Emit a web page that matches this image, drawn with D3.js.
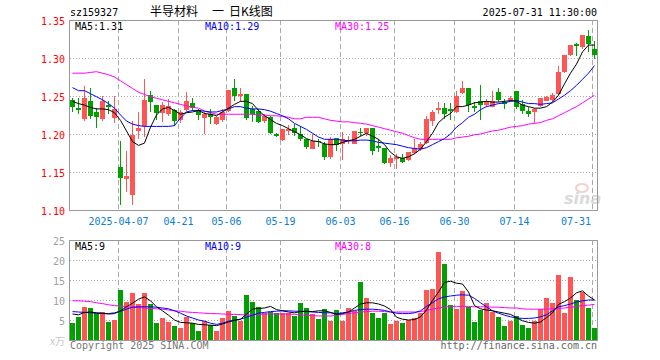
<!DOCTYPE html>
<html>
<head>
<meta charset="utf-8">
<script src="https://cdn.jsdelivr.net/npm/d3@7"></script>
<style>
body { margin: 0; background: #fff; }
svg { display: block; }
text { font-family: "DejaVu Sans Mono", monospace; font-size: 10px; }
.cjk { font-family: "Noto Sans CJK SC", sans-serif; font-size: 12px; }
</style>
</head>
<body>
<svg width="660" height="360"></svg>
<script>
// trading days shown (2025)
var dates = ["03-25","03-26","03-27","03-28","03-31","04-01","04-02","04-03","04-07","04-08","04-09","04-10","04-11","04-14","04-15","04-16","04-17","04-18","04-21","04-22","04-23","04-24","04-25","04-28","04-29","04-30","05-06","05-07","05-08","05-09","05-12","05-13","05-14","05-15","05-16","05-19","05-20","05-21","05-22","05-23","05-26","05-27","05-28","05-29","05-30","06-03","06-04","06-05","06-06","06-09","06-10","06-11","06-12","06-13","06-16","06-17","06-18","06-19","06-20","06-23","06-24","06-25","06-26","06-27","06-30","07-01","07-02","07-03","07-04","07-07","07-08","07-09","07-10","07-11","07-14","07-15","07-16","07-17","07-18","07-21","07-22","07-23","07-24","07-25","07-28","07-29","07-30","07-31"];

var open = [1.245,1.234,1.220,1.243,1.229,1.219,1.238,1.221,1.157,1.141,
    1.120,1.204,1.211,1.251,1.238,1.228,1.226,1.232,1.218,1.231,
    1.241,1.231,1.221,1.226,1.213,1.218,1.230,1.261,1.250,1.253,
    1.233,1.230,1.218,1.223,1.200,1.192,1.205,1.208,1.200,1.193,
    1.181,1.191,1.187,1.169,1.195,1.187,1.191,1.187,1.203,1.202,
    1.208,1.184,1.182,1.162,1.168,1.169,1.165,1.175,1.180,1.188,
    1.217,1.231,1.234,1.233,1.229,1.254,1.261,1.237,1.243,1.238,
    1.236,1.255,1.242,1.244,1.257,1.240,1.230,1.229,1.236,1.244,
    1.244,1.253,1.282,1.304,1.318,1.314,1.329,1.312];
var close = [1.236,1.231,1.247,1.223,1.223,1.243,1.235,1.233,1.142,1.145,
    1.199,1.208,1.245,1.242,1.228,1.238,1.237,1.217,1.229,1.243,
    1.235,1.224,1.226,1.222,1.222,1.229,1.258,1.250,1.253,1.222,
    1.227,1.216,1.224,1.202,1.198,1.206,1.207,1.202,1.193,1.182,
    1.191,1.190,1.170,1.193,1.186,1.193,1.192,1.204,1.202,1.208,
    1.178,1.182,1.162,1.169,1.170,1.164,1.176,1.181,1.187,1.220,
    1.229,1.234,1.226,1.231,1.250,1.261,1.238,1.235,1.238,1.242,
    1.244,1.244,1.240,1.247,1.236,1.231,1.226,1.233,1.247,1.249,
    1.251,1.282,1.304,1.317,1.315,1.330,1.318,1.304];
var high = [1.247,1.247,1.263,1.260,1.234,1.250,1.243,1.250,1.191,1.178,
    1.217,1.229,1.272,1.257,1.238,1.242,1.246,1.233,1.232,1.255,
    1.247,1.233,1.229,1.233,1.224,1.233,1.258,1.272,1.261,1.253,
    1.237,1.233,1.226,1.224,1.201,1.207,1.212,1.213,1.211,1.194,
    1.200,1.193,1.189,1.196,1.195,1.202,1.198,1.204,1.208,1.208,
    1.208,1.193,1.182,1.172,1.174,1.174,1.176,1.194,1.189,1.224,
    1.231,1.242,1.241,1.241,1.257,1.270,1.261,1.242,1.265,1.246,
    1.257,1.260,1.246,1.250,1.257,1.245,1.235,1.234,1.248,1.250,
    1.254,1.290,1.304,1.317,1.320,1.330,1.337,1.323];
var low = [1.229,1.226,1.217,1.220,1.208,1.217,1.226,1.215,1.107,1.124,
    1.107,1.193,1.196,1.229,1.218,1.216,1.224,1.211,1.215,1.229,
    1.230,1.218,1.200,1.213,1.212,1.216,1.229,1.243,1.242,1.218,
    1.216,1.215,1.215,1.200,1.196,1.191,1.199,1.197,1.191,1.180,
    1.180,1.183,1.166,1.167,1.178,1.166,1.187,1.187,1.198,1.198,
    1.173,1.176,1.161,1.156,1.154,1.162,1.164,1.174,1.178,1.187,
    1.211,1.226,1.220,1.219,1.228,1.253,1.229,1.229,1.219,1.236,
    1.235,1.242,1.233,1.242,1.233,1.226,1.222,1.215,1.235,1.243,
    1.242,1.251,1.280,1.303,1.302,1.312,1.308,1.299];
// volume, 万手
var volume = [4.3,5.8,8.3,8.0,6.7,7.1,4.6,5.0,12.5,9.6,
    11.8,9.0,11.8,9.0,4.3,5.6,4.6,3.5,3.0,5.7,
    4.2,2.3,4.8,3.8,2.3,5.6,7.3,6.1,4.8,11.3,
    9.6,8.2,6.8,7.1,6.7,6.7,6.7,6.0,9.3,7.9,
    6.5,5.3,7.8,4.8,7.5,4.8,7.9,7.3,14.5,10.5,
    6.7,5.5,6.8,4.0,4.7,4.2,5.0,5.4,6.8,12.5,
    12.8,22.0,19.0,8.8,7.8,12.3,8.3,4.6,7.5,9.3,
    7.1,5.8,3.5,4.8,6.0,3.8,3.1,4.8,7.7,10.6,
    9.3,16.3,6.8,15.8,10.0,12.1,7.9,3.1];

// moving averages as printed on the chart
var ma5 = [1.243,1.240,1.238,1.235,1.233,1.233,1.232,1.228,1.218,1.204,
    1.190,1.185,1.188,1.209,1.225,1.233,1.235,1.231,1.226,1.228,
    1.229,1.231,1.227,1.226,1.224,1.229,1.234,1.239,1.243,1.243,
    1.240,1.231,1.224,1.219,1.214,1.211,1.207,1.203,1.199,1.194,
    1.191,1.190,1.187,1.186,1.186,1.189,1.191,1.193,1.197,1.201,
    1.197,1.193,1.186,1.176,1.170,1.168,1.170,1.174,1.180,1.190,
    1.201,1.215,1.222,1.227,1.236,1.236,1.238,1.241,1.242,1.243,
    1.242,1.242,1.243,1.244,1.243,1.238,1.236,1.234,1.234,1.236,
    1.242,1.251,1.266,1.280,1.292,1.308,1.317,1.317];
var ma10 = [1.261,1.257,1.257,1.253,1.249,1.245,1.240,1.234,1.225,1.217,
    1.213,1.211,1.210,1.210,1.210,1.210,1.210,1.211,1.221,1.229,
    1.231,1.231,1.230,1.229,1.229,1.231,1.233,1.236,1.236,1.234,
    1.233,1.233,1.232,1.230,1.227,1.224,1.220,1.214,1.210,1.206,
    1.201,1.196,1.193,1.193,1.193,1.192,1.191,1.191,1.192,1.192,
    1.191,1.189,1.188,1.187,1.186,1.184,1.182,1.181,1.180,1.182,
    1.186,1.190,1.194,1.200,1.209,1.215,1.222,1.226,1.232,1.236,
    1.238,1.240,1.241,1.243,1.244,1.242,1.240,1.240,1.239,1.240,
    1.241,1.246,1.251,1.257,1.264,1.272,1.280,1.290];
var ma30 = [1.280,1.280,1.280,1.281,1.282,1.280,1.278,1.275,1.270,1.265,
    1.260,1.255,1.252,1.249,1.247,1.245,1.243,1.241,1.239,1.237,
    1.235,1.234,1.230,1.228,1.226,1.226,1.226,1.226,1.226,1.226,
    1.226,1.225,1.225,1.224,1.224,1.223,1.222,1.220,1.220,1.222,
    1.222,1.222,1.220,1.218,1.217,1.216,1.216,1.215,1.214,1.213,
    1.211,1.209,1.207,1.205,1.203,1.201,1.198,1.195,1.193,1.193,
    1.193,1.193,1.193,1.193,1.195,1.196,1.197,1.199,1.200,1.202,
    1.204,1.205,1.207,1.209,1.210,1.211,1.213,1.214,1.215,1.218,
    1.220,1.224,1.228,1.232,1.236,1.241,1.246,1.251];
var vma5 = [6.5,6.3,6.9,7.0,6.8,6.7,6.5,6.6,7.3,8.3,
    9.2,10.2,10.8,9.8,8.3,7.3,6.2,5.0,4.4,4.3,
    4.2,3.9,3.8,3.7,3.6,4.0,4.5,4.9,5.2,6.5,
    7.7,7.9,8.0,8.4,7.6,7.3,7.0,6.8,7.1,7.2,
    7.1,7.3,7.3,6.9,6.4,6.6,7.0,8.0,9.0,9.3,
    9.3,9.0,8.5,7.6,5.7,5.2,5.0,5.1,5.8,7.5,
    9.9,12.0,14.4,14.7,14.2,14.0,12.0,8.6,7.8,7.5,
    7.3,7.0,6.7,6.4,5.6,4.8,4.4,4.2,4.5,5.6,
    6.8,8.9,9.6,10.5,11.8,12.3,11.0,10.0];
var vma10 = [7.1,7.0,6.9,6.8,6.7,6.6,6.6,6.8,7.2,7.7,
    8.2,8.3,8.3,8.3,8.2,8.0,7.8,7.3,6.7,6.0,
    5.5,5.0,4.7,4.2,3.9,4.2,4.7,5.0,5.2,5.7,
    6.2,6.7,6.9,7.1,7.2,7.3,7.3,7.2,7.2,7.1,
    7.0,6.9,6.8,6.8,6.6,6.8,7.0,7.4,7.6,7.7,
    7.7,7.6,7.4,7.0,6.7,6.6,6.6,6.8,7.3,8.4,
    9.3,10.3,10.8,11.0,11.2,11.3,11.2,10.4,9.3,8.3,
    7.3,6.7,6.2,5.8,5.5,5.4,5.4,5.5,5.8,6.3,
    7.3,8.3,8.6,9.0,9.5,9.8,10.0,10.0];
var vma30 = [9.8,9.8,9.7,9.6,9.3,9.1,8.8,8.6,8.5,8.3,
    8.2,8.1,8.0,7.9,7.8,7.7,7.5,7.3,7.2,7.0,
    6.9,6.8,6.7,6.6,6.6,6.5,6.4,6.4,6.35,6.3,
    6.3,6.4,6.5,6.5,6.5,6.5,6.5,6.4,6.3,6.2,
    6.1,6.0,6.0,6.0,6.2,6.4,6.6,6.8,7.0,7.1,
    7.2,7.2,7.1,7.0,7.0,7.0,7.0,7.0,7.1,7.4,
    7.7,8.0,8.2,8.4,8.4,8.4,8.4,8.3,8.3,8.3,
    8.2,8.2,8.1,8.0,8.0,7.8,7.7,7.7,7.7,7.7,
    7.8,7.9,8.0,8.2,8.4,8.6,8.7,8.9];

var tickDates = ["04-07","04-21","05-06","05-19","06-03","06-16","06-30","07-14","07-31"];
var tickLabels = ["2025-04-07","04-21","05-06","05-19","06-03","06-16","06-30","07-14","07-31"];
var priceTicks = [1.10,1.15,1.20,1.25,1.30,1.35];
var volumeTicks = [5,10,15,20,25];
var priceLegend = ["MA5:1.31","MA10:1.29","MA30:1.25"];
var volumeLegend = ["MA5:9","MA10:9","MA30:8"];
var titleParts = ["半导材料", "一", "日K线图"];

var svg = d3.select("svg"),
    plot = {left: 70, right: 597, top: 20, bottom: 210},
    vplot = {top: 240, bottom: 340},
    colors = {up: "#ff5555", down: "#00a000", ma: ["#000000", "#0000ff", "#ff00ff"], grid: "#aaaaaa"};

var x = d3.scaleBand().domain(dates).range([70, 598]);
var y = d3.scaleLinear().domain([1.10, 1.35]).range([plot.bottom, plot.top]);
var yv = d3.scaleLinear().domain([0, 25]).range([vplot.bottom, vplot.top]);

// header
svg.append("text").text("sz159327").attr("x", 70).attr("y", 16).attr("fill", "#000");
var titleX = [150, 212, 229];
titleParts.forEach(function(t, i) {
    svg.append("text").text(t).attr("class", "cjk").attr("x", titleX[i]).attr("y", 16).attr("fill", "#000");
});
svg.append("text").text("2025-07-31 11:30:00").attr("x", 597).attr("y", 16)
    .attr("text-anchor", "end").attr("fill", "#000");

// horizontal grid
function hgrid(scale, values) {
    svg.append("g")
        .attr("transform", "translate(" + plot.left + ",0)")
        .call(d3.axisLeft(scale).tickValues(values).tickSize(-(plot.right - plot.left)).tickFormat(""))
        .call(function(g) { g.select(".domain").remove(); })
        .selectAll("line")
        .attr("stroke", colors.grid)
        .attr("stroke-dasharray", "1,2");
}
hgrid(y, [1.15, 1.20, 1.25, 1.30]);
hgrid(yv, [5, 10, 15, 20]);

// vertical dashed lines
[[plot.top, plot.bottom], [vplot.top, vplot.bottom]].forEach(function(r) {
    svg.append("g").selectAll("line")
        .data(tickDates)
        .join("line")
        .attr("x1", function(d) { return x(d) + 0.5; })
        .attr("x2", function(d) { return x(d) + 0.5; })
        .attr("y1", r[0])
        .attr("y2", r[1])
        .attr("stroke", colors.grid)
        .attr("stroke-dasharray", "5,3");
});

// y axis labels
var priceAxis = svg.append("g")
    .attr("transform", "translate(68,0)")
    .call(d3.axisLeft(y).tickValues(priceTicks).tickSize(0).tickPadding(3).tickFormat(d3.format(".2f")));
priceAxis.select(".domain").remove();
priceAxis.selectAll("text").attr("fill", "#ff0000").attr("dy", "0.4em");

var volumeAxis = svg.append("g")
    .attr("transform", "translate(68,0)")
    .call(d3.axisLeft(yv).tickValues(volumeTicks).tickSize(0).tickPadding(3));
volumeAxis.select(".domain").remove();
volumeAxis.selectAll("text").attr("fill", "#a0a0a0").attr("dy", "0.4em");

svg.append("text").text("x万").attr("class", "cjk").style("font-size", "10px")
    .attr("x", 65).attr("y", 345).attr("text-anchor", "end").attr("fill", "#c8c8c8");

// date labels
svg.append("g").selectAll("text")
    .data(tickDates)
    .join("text")
    .text(function(d, i) { return tickLabels[i]; })
    .attr("x", function(d) { return x(d) + 0.5; })
    .attr("y", 225)
    .attr("text-anchor", "middle")
    .attr("fill", "#0a80d0")
    .each(function() {
        var w = this.getComputedTextLength(), cx = +d3.select(this).attr("x");
        if (cx + w / 2 > 591) d3.select(this).attr("x", 591).attr("text-anchor", "end");
    });

// watermark
var mark = svg.append("g").attr("opacity", 0.9);
mark.append("ellipse").attr("cx", 582).attr("cy", 188).attr("rx", 6).attr("ry", 4)
    .attr("fill", "none").attr("stroke", "#f4caca").attr("stroke-width", 2);
mark.append("text").text("sina").attr("x", 564).attr("y", 204)
    .style("font-family", "DejaVu Sans").style("font-size", "16px")
    .style("font-style", "italic").style("font-weight", "bold").attr("fill", "#d6d6d6");

// candles
var idx = d3.range(dates.length);
var candles = svg.append("g");
candles.selectAll("line")
    .data(idx)
    .join("line")
    .attr("x1", function(i) { return x(dates[i]) + 2.5; })
    .attr("x2", function(i) { return x(dates[i]) + 2.5; })
    .attr("y1", function(i) { return Math.round(y(high[i])); })
    .attr("y2", function(i) { return Math.round(y(low[i])); })
    .attr("stroke", function(i) { return close[i] >= open[i] ? colors.up : colors.down; });
candles.selectAll("rect")
    .data(idx)
    .join("rect")
    .attr("x", function(i) { return x(dates[i]); })
    .attr("y", function(i) { return Math.round(y(Math.max(open[i], close[i]))); })
    .attr("width", 5)
    .attr("height", function(i) { return Math.max(1, Math.round(Math.abs(y(open[i]) - y(close[i])))); })
    .attr("fill", function(i) { return close[i] >= open[i] ? colors.up : colors.down; });

// volume bars
svg.append("g").selectAll("rect")
    .data(idx)
    .join("rect")
    .attr("x", function(i) { return x(dates[i]); })
    .attr("y", function(i) { return Math.round(yv(volume[i])); })
    .attr("width", 5)
    .attr("height", function(i) { return vplot.bottom - Math.round(yv(volume[i])); })
    .attr("fill", function(i) { return close[i] >= open[i] ? colors.up : colors.down; });

// moving average lines
function maLine(values, scale, color) {
    svg.append("path")
        .datum(values)
        .attr("fill", "none")
        .attr("stroke", color)
        .attr("stroke-width", 1)
        .attr("d", d3.line()
            .x(function(d, i) { return x(dates[i]) + 2.5; })
            .y(function(d) { return scale(d); }));
}
maLine(ma30, y, colors.ma[2]);
maLine(ma10, y, colors.ma[1]);
maLine(ma5, y, colors.ma[0]);
maLine(vma30, yv, colors.ma[2]);
maLine(vma10, yv, colors.ma[1]);
maLine(vma5, yv, colors.ma[0]);

// frames
svg.append("rect").attr("x", 69.5).attr("y", 20.5).attr("width", 528).attr("height", 190)
    .attr("fill", "none").attr("stroke", "#999");
svg.append("rect").attr("x", 69.5).attr("y", 240.5).attr("width", 528).attr("height", 100)
    .attr("fill", "none").attr("stroke", "#999");

// legends
var legendX = [75, 205, 335];
priceLegend.forEach(function(t, i) {
    svg.append("text").text(t).attr("x", legendX[i]).attr("y", 30).attr("fill", colors.ma[i]);
});
volumeLegend.forEach(function(t, i) {
    svg.append("text").text(t).attr("x", legendX[i]).attr("y", 250).attr("fill", colors.ma[i]);
});

// footer
svg.append("text").text("Copyright 2025 SINA.COM").attr("x", 70).attr("y", 349).attr("fill", "#777");
svg.append("text").text("http://finance.sina.com.cn").attr("x", 597).attr("y", 349)
    .attr("text-anchor", "end").attr("fill", "#666");
</script>
</body>
</html>
